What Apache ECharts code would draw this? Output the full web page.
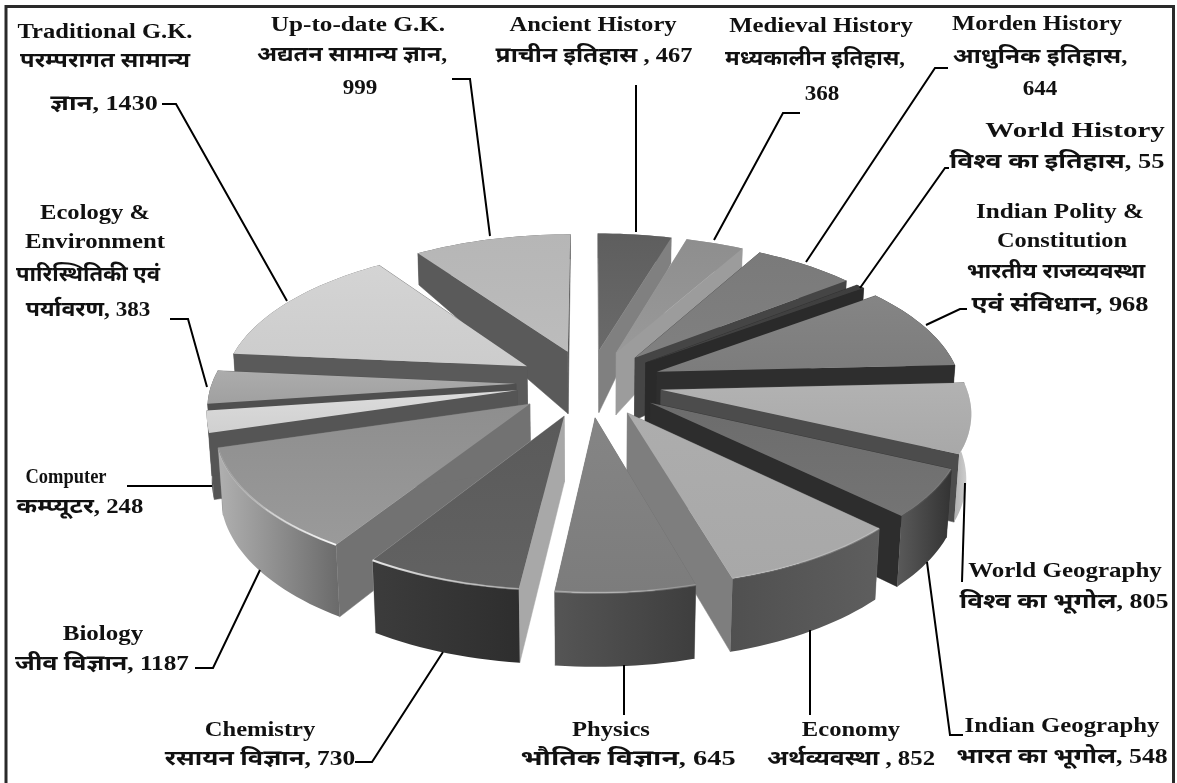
<!DOCTYPE html>
<html><head><meta charset="utf-8">
<style>html,body{margin:0;padding:0;background:#fff}#c{width:1177px;height:783px}</style>
<script src="https://cdn.jsdelivr.net/npm/echarts@6/dist/echarts.min.js"></script>
</head><body><div id="c"></div>
<script>
// ---------- data ----------
const categories = ['Ancient History','Medieval History','Morden History','World History','Indian Polity & Constitution','World Geography','Indian Geography','Economy','Physics','Chemistry','Biology','Computer','Ecology & Environment','Traditional G.K.','Up-to-date G.K.'];
const values = [467,368,644,55,968,805,548,852,645,730,1187,248,383,1430,999];
const labelLines = [
 ['Ancient History','प्राचीन इतिहास , {v}'],
 ['Medieval History','मध्यकालीन इतिहास,','{v}'],
 ['Morden History','आधुनिक इतिहास,','{v}'],
 ['World History','विश्व का इतिहास, {v}'],
 ['Indian Polity &','Constitution','भारतीय राजव्यवस्था','एवं संविधान, {v}'],
 ['World Geography','विश्व का भूगोल, {v}'],
 ['Indian Geography','भारत का भूगोल, {v}'],
 ['Economy','अर्थव्यवस्था , {v}'],
 ['Physics','भौतिक विज्ञान, {v}'],
 ['Chemistry','रसायन विज्ञान, {v}'],
 ['Biology','जीव विज्ञान, {v}'],
 ['Computer','कम्प्यूटर, {v}'],
 ['Ecology &','Environment','पारिस्थितिकी एवं','पर्यावरण, {v}'],
 ['Traditional G.K.','परम्परागत सामान्य','ज्ञान, {v}'],
 ['Up-to-date G.K.','अद्यतन सामान्य ज्ञान,','{v}']
];
// ---------- layout ----------
const labelX = [[593,594],[821,815,822],[1037,1040,1040],[1075,1057],[1060,1062,1056,1060],[1065,1064],[1062,1062],[851,851],[611,628],[260,260],[103,102],[66,80],[95,95,88,88],[105,105,104],[358,352,360]];
const labelY = [[26,57],[27,60,95],[25,58,90],[132,163],[213,242,273,306],[572,603],[727,758],[731,760],[731,760],[731,760],[635,665],[478,508],[214,243,276,311],[33,62,105],[26,56,89]];
const labelScale = [[1.17,1.165],[1.18,1.07,1.1],[1.17,1.17,1.1],[1.38,1.26],[1.2,1.16,1.09,1.26],[1.19,1.24],[1.18,1.23],[1.17,1.18],[1.17,1.35],[1.17,1.21],[1.19,1.2],[0.88,1.18],[1.17,1.18,1.05,1.1],[1.17,1.13,1.24],[1.2,1.12,1.1]];
const leaders = [
 [[636,85],[636,232]],
 [[800,113],[783,113],[714,240]],
 [[948,68],[935,68],[806,262]],
 [[949,168],[945,168],[860,288]],
 [[967,309],[960,309],[926,325]],
 [[962,582],[965,483]],
 [[963,735],[950,735],[927,562]],
 [[810,630],[810,715]],
 [[624,665],[624,715]],
 [[355,762],[372,762],[443,652]],
 [[195,668],[213,668],[260,570]],
 [[127,486],[212,486]],
 [[170,319],[188,319],[207,387]],
 [[162,104],[176,104],[287,301]],
 [[452,79],[470,79],[490,236]]
];
// ---------- styles ----------
const faceTop   = ['#5e5e5e','#8e8e8e','#7a7a7a','#3e3e3e','#858585','#b2b2b2','#6c6c6c','#adadad','#858585','#5a5a5a','#8e8e8e','#dcdcdc','#acacac','#d4d4d4','#b6b6b6'];
const faceBot   = ['#6a6a6a','#999999','#808080','#444444','#7c7c7c','#a8a8a8','#747474','#a8a8a8','#7c7c7c','#626262','#9a9a9a','#d0d0d0','#a0a0a0','#cccccc','#bcbcbc'];
const radialWall= ['#808080','#9c9c9c','#454545','#2a2a2a','#2e2e2e','#4c4c4c','#2d2d2d','#7e7e7e','#6e6e6e','#a8a8a8','#727272','#555555','#4f4f4f','#5a5a5a','#5a5a5a'];
const outerA    = ['#808080','#9c9c9c','#454545','#2a2a2a','#2e2e2e','#b0b0b0','#5a5a5a','#505050','#555555','#3c3c3c','#b0b0b0','#555555','#4f4f4f','#5a5a5a','#5a5a5a'];
const outerB    = ['#808080','#9c9c9c','#454545','#2a2a2a','#2e2e2e','#d8d8d8','#333333','#5e5e5e','#3e3e3e','#2e2e2e','#6a6a6a','#555555','#4f4f4f','#5a5a5a','#5a5a5a'];
const rimLeft   = [0,0,0,0,0,0,0,0.1,0.35,0.85,0.05,0,0,0,0];
const rimRight  = [0,0,0,0,0,0,0.1,0.25,0.2,0.35,0.95,0,0,0,0];

// projection constants
const CX=589, CY=383, RX=304, RY=141, PERSP=0.135, EXPLODE=0.24;
function project(X,Y){
  const d=1+PERSP*Y;
  return [CX+RX*X/d, CY-RY*Y/d, Y];
}
function wallH(Y){
  if(Y<0.24) return 62+(0.24-Y)/1.48*12;
  return 62-(Y-0.24)/0.96*36;
}
function drop(p){
  const h=wallH(p[2]);
  return [p[0]-(p[0]-CX)*h*0.0002, p[1]+h];
}
const total=values.reduce((a,b)=>a+b,0);
const geo=[]; let acc=0;
values.forEach((v,i)=>{
  const a0=acc/total*2*Math.PI; acc+=v; const a1=acc/total*2*Math.PI; const m=(a0+a1)/2;
  const ox=EXPLODE*Math.sin(m), oy=EXPLODE*Math.cos(m);
  const arc=[]; const n=Math.max(4,Math.ceil((a1-a0)/0.03));
  for(let k=0;k<=n;k++){const t=a0+(a1-a0)*k/n; arc.push(project(ox+Math.sin(t),oy+Math.cos(t)));}
  const tip=project(ox,oy);
  const mid=project(ox+0.66*Math.sin(m),oy+0.66*Math.cos(m));
  geo.push({arc,tip,depth:mid[1]});
});
const order=geo.map((g,i)=>i).sort((a,b)=>geo[a].depth-geo[b].depth);
const rank=[]; order.forEach((id,r)=>rank[id]=r);
const xy=p=>[p[0],p[1]];
const vGrad=(a,b)=>({type:'linear',x:0,y:0,x2:0,y2:1,colorStops:[{offset:0,color:a},{offset:1,color:b}]});
const hGrad=(a,b)=>({type:'linear',x:0,y:0,x2:1,y2:0,colorStops:[{offset:0,color:a},{offset:1,color:b}]});

function renderSlice(params,api){
  const i=api.value(0), g=geo[i], z=rank[i]*10, kids=[];
  const first=g.arc[0], last=g.arc[g.arc.length-1];
  const wall=(a,b,fill,zz)=>kids.push({type:'polygon',z2:z+zz,shape:{points:[xy(a),xy(b),drop(b),drop(a)]},style:{fill,stroke:fill,lineWidth:0.5}});
  wall(g.tip,first,radialWall[i],1);
  wall(g.tip,last,radialWall[i],1);
  const low=g.arc.map(drop).reverse();
  kids.push({type:'polygon',z2:z+2,shape:{points:g.arc.map(xy).concat(low)},style:{fill:hGrad(outerA[i],outerB[i])}});
  kids.push({type:'polygon',z2:z+3,shape:{points:[xy(g.tip)].concat(g.arc.map(xy))},style:{fill:vGrad(faceTop[i],faceBot[i])}});
  if(rimLeft[i]>0||rimRight[i]>0){
    kids.push({type:'polyline',z2:z+4,shape:{points:g.arc.map(xy)},style:{fill:'none',lineWidth:2,
      stroke:hGrad('rgba(255,255,255,'+rimLeft[i]+')','rgba(255,255,255,'+rimRight[i]+')')}});
  }
  return {type:'group',children:kids};
}

const graphics=[{type:'polyline',shape:{points:[[6,783],[6,6.5],[1173.5,6.5],[1173.5,783]]},style:{fill:'none',stroke:'#2a2a2a',lineWidth:3},z:1}];
leaders.forEach(pts=>graphics.push({type:'polyline',shape:{points:pts},style:{fill:'none',stroke:'#000',lineWidth:2},z:20}));
labelLines.forEach((lines,i)=>lines.forEach((t,k)=>{
  graphics.push({type:'text',x:labelX[i][k],y:labelY[i][k],scaleX:labelScale[i][k],z:21,style:{
    text:t.replace('{v}',values[i]),align:'center',verticalAlign:'middle',
    font:'bold 21px "Liberation Serif","Noto Sans",serif',fill:'#111'}});
}));

const chart=echarts.init(document.getElementById('c'),null,{renderer:'canvas'});
chart.setOption({
  backgroundColor:'#fff',animation:false,
  graphic:{elements:graphics},
  series:[{type:'custom',name:'Questions',coordinateSystem:'none',silent:true,
    data:values.map((v,i)=>({name:categories[i],value:[i,v]})),
    renderItem:renderSlice}]
});
</script></body></html>
